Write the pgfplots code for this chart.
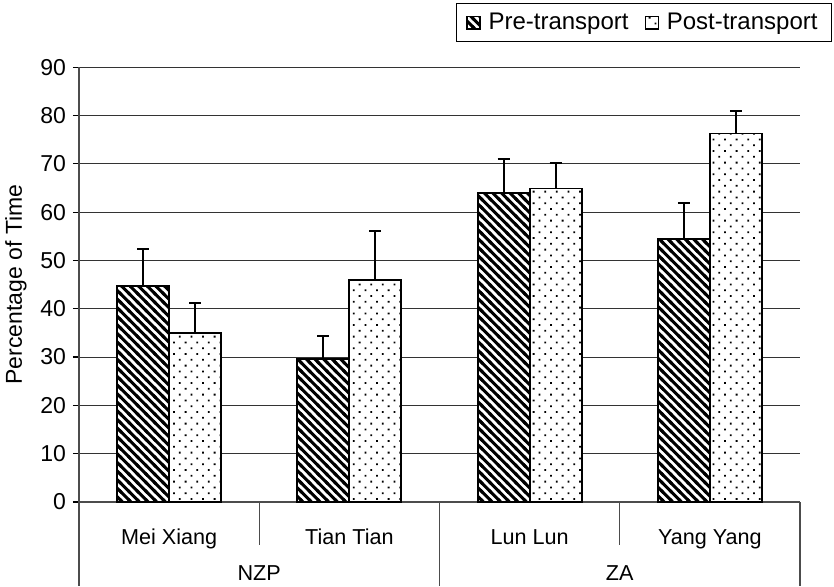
\documentclass[border=0pt]{standalone}
\usepackage{pgfplots}
\pgfplotsset{compat=1.18}
\usepackage{pgfplotstable}
\usepackage{fontspec}
\setmainfont{Liberation Sans}
\usetikzlibrary{patterns}
\pgfdeclarepatternformonly{thicknw}{\pgfqpoint{-1pt}{-1pt}}{\pgfqpoint{5.3pt}{5.3pt}}{\pgfqpoint{4.3pt}{4.3pt}}{%
 \pgfsetlinewidth{1.5pt}%
 \pgfpathmoveto{\pgfqpoint{-1pt}{5.3pt}}\pgfpathlineto{\pgfqpoint{5.3pt}{-1pt}}%
 \pgfusepath{stroke}}
\pgfdeclarepatternformonly{sparsedots}{\pgfqpoint{-0.5pt}{-0.5pt}}{\pgfqpoint{6.3pt}{6.3pt}}{\pgfqpoint{5.8pt}{5.8pt}}{%
 \pgfpathrectangle{\pgfqpoint{-0.45pt}{-0.45pt}}{\pgfqpoint{0.9pt}{0.9pt}}%
 \pgfpathrectangle{\pgfqpoint{2.45pt}{2.45pt}}{\pgfqpoint{0.9pt}{0.9pt}}%
 \pgfusepath{fill}}

\pgfplotstableread{
x y err
0 44.7 7.6
1 29.6 4.8
2 63.9 7.0
3 54.4 7.4
}\pre
\pgfplotstableread{
x y err
0 35.05 6.1
1 46.0 10.1
2 64.9 5.2
3 76.3 4.65
}\post

\begin{document}
\begin{tikzpicture}
\begin{axis}[
  scale only axis,
  width=360.5pt, height=217.4pt,
  ybar=0pt, bar width=26pt,
  xmin=-0.5, xmax=3.5,
  ymin=0, ymax=90,
  ytick={0,10,...,90},
  xtick={0,1,2,3},
  xticklabels={Mei Xiang, Tian Tian, Lun Lun, Yang Yang},
  xtick style={draw=none},
  xticklabel style={anchor=base, yshift=-18pt, font=\fontsize{10.8}{12}\selectfont},
  yticklabel style={font=\fontsize{11.5}{13}\selectfont},
  /pgf/number format/assume math mode=true,
  axis lines*=left,
  axis line style={black!70, line width=0.6pt},
  tick align=outside,
  ytick style={black, line width=0.6pt},
  major tick length=3pt,
  ymajorgrids,
  grid style={black!80, line width=0.5pt},
  ylabel={Percentage of Time},
  ylabel style={font=\fontsize{11.5}{13}\selectfont},
  ylabel shift=0pt,
  clip=false,
  legend columns=2,
  legend style={at={(rel axis cs:1.0444,1.147)}, anchor=north east, draw=black, line width=0.5pt,
     font=\fontsize{12}{14}\selectfont, inner xsep=5pt, inner ysep=2.5pt,
     /tikz/every odd column/.append style={column sep=2pt},
     /tikz/every even column/.append style={column sep=6pt}},
  legend image code/.code={\draw[#1, line width=0.6pt] (0pt,-3.2pt) rectangle (6.5pt,3.2pt);},
]
\addplot[draw=black, line width=0.9pt, fill=white, postaction={pattern=thicknw},
  error bars/.cd, y dir=plus, y explicit,
  error bar style={line width=1pt, black},
  error mark options={rotate=90, line width=1pt, mark size=3pt, black}]
  table[x=x, y=y, y error=err]{\pre};
\addlegendentry{Pre-transport}
\addplot[draw=black, line width=0.9pt, fill=white, postaction={pattern=sparsedots},
  error bars/.cd, y dir=plus, y explicit,
  error bar style={line width=1pt, black},
  error mark options={rotate=90, line width=1pt, mark size=3pt, black}]
  table[x=x, y=y, y error=err]{\post};
\addlegendentry{Post-transport}

\coordinate (BL) at (rel axis cs:0,0);
\draw[black!70, line width=0.6pt] (axis cs:-0.5,0) -- ([yshift=-42pt]axis cs:-0.5,0);
\draw[black!70, line width=0.6pt] (axis cs:0.5,0) -- ([yshift=-21.5pt]axis cs:0.5,0);
\draw[black!70, line width=0.6pt] (axis cs:1.5,0) -- ([yshift=-42pt]axis cs:1.5,0);
\draw[black!70, line width=0.6pt] (axis cs:2.5,0) -- ([yshift=-21.5pt]axis cs:2.5,0);
\draw[black!70, line width=0.6pt] (axis cs:3.5,0) -- ([yshift=-42pt]axis cs:3.5,0);
\node[anchor=base, font=\fontsize{10.8}{12}\selectfont] at ([yshift=-39pt]axis cs:0.5,0) {NZP};
\node[anchor=base, font=\fontsize{10.8}{12}\selectfont] at ([yshift=-39pt]axis cs:2.5,0) {ZA};
\end{axis}
\pgfresetboundingbox
\path (BL) ++(-39.5pt,-42pt) rectangle ++(417pt,293pt);
\end{tikzpicture}
\end{document}
